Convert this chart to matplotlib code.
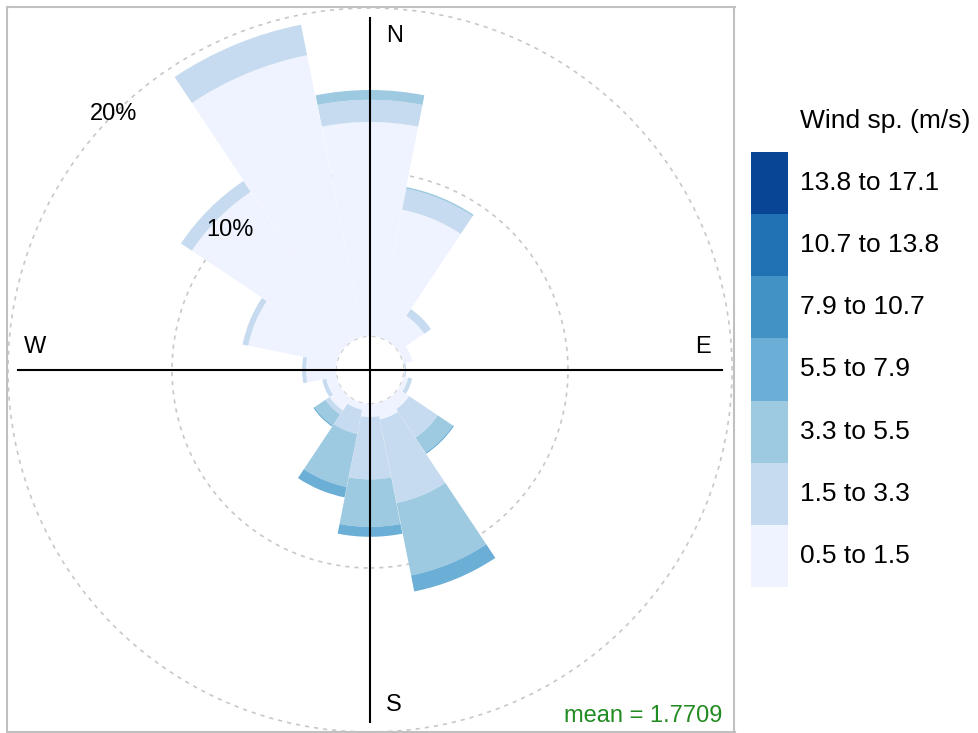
import numpy as np
import matplotlib
matplotlib.use("Agg")
import matplotlib.pyplot as plt
from matplotlib.patches import Wedge, Circle

plt.rcParams['font.family'] = ['Liberation Sans', 'DejaVu Sans']

# wind direction sectors (deg from north), 16 x 22.5
directions = np.arange(0, 360, 22.5)

# frequency (%) per speed class for each sector (N, NNE, ... NNW)
freq_0_5 = [13.05, 7.9, 1.9, 0.55, 0.05, 0.30, 0.8, 1.0, 0.8, 0.4, 0.9, 0.65, 1.83, 5.5, 11.0, 17.5]
freq_1_5 = [1.35, 1.3, 0.5, 0.0, 0.08, 0.25, 2.1, 5.2, 3.8, 1.5, 0.3, 0.25, 0.24, 0.35, 0.8, 1.9]
freq_3_3 = [0.6, 0.1, 0.0, 0.0, 0.0, 0.0, 1.1, 4.5, 2.9, 3.3, 0.8, 0.0, 0.0, 0.0, 0.0, 0.0]
freq_5_5 = [0.0, 0.0, 0.0, 0.0, 0.0, 0.0, 0.08, 1.0, 0.6, 0.65, 0.08, 0.0, 0.0, 0.0, 0.0, 0.0]
freq_7_9 = [0.0] * 16
freq_10_7 = [0.0] * 16
freq_13_8 = [0.0] * 16

speed_labels = ["0.5 to 1.5", "1.5 to 3.3", "3.3 to 5.5", "5.5 to 7.9",
                "7.9 to 10.7", "10.7 to 13.8", "13.8 to 17.1"]
speed_colors = ["#EFF3FF", "#C6DBEF", "#9ECAE1", "#6BAED6",
                "#4292C6", "#2171B5", "#084594"]
grid_pct = [10, 20]
mean_ws = 1.7709

freqs = [freq_0_5, freq_1_5, freq_3_3, freq_5_5, freq_7_9, freq_10_7, freq_13_8]

OFF = 2.07      # hole in the middle, in % units
HW = 11.2       # half width of a sector (deg)

fig = plt.figure(figsize=(9.79, 7.33), dpi=100)
ax = fig.add_axes([7.5 / 979, 1.5 / 733, 727 / 979, 724.5 / 733])
ax.set_xlim(-22.1, 22.22)
ax.set_ylim(-22.04, 22.13)

# grid circles (below the bars)
for g in grid_pct:
    ax.add_patch(Circle((0, 0), OFF + g, fill=False, ec="#c8c8c8", lw=1.2,
                        ls=(0, (2.5, 3)), zorder=1))
ax.add_patch(Circle((0, 0), OFF, fill=False, ec="#c8c8c8", lw=1.2,
                    ls=(0, (2.5, 3)), zorder=1))

# stacked sectors
for k, d in enumerate(directions):
    r0 = OFF
    for b in range(len(freqs)):
        v = freqs[b][k]
        if v > 0:
            ax.add_patch(Wedge((0, 0), r0 + v, 90 - d - HW, 90 - d + HW, width=v,
                               facecolor=speed_colors[b], edgecolor="none", zorder=2))
        r0 += v

# percentage labels along NW
for g in grid_pct:
    r = OFF + g
    ax.text(-r * np.sin(np.pi / 4), r * np.cos(np.pi / 4), f"{g}%",
            ha="center", va="center", fontsize=17, zorder=4)

# compass cross
L = 21.46
ax.plot([0, 0], [-L, L], color="black", lw=1.5, zorder=3)
ax.plot([-L, L], [0, 0], color="black", lw=1.5, zorder=3)
ax.text(1.52, 20.35, "N", ha="center", va="center", fontsize=17)
ax.text(1.46, -20.4, "S", ha="center", va="center", fontsize=17)
ax.text(-20.42, 1.4, "W", ha="center", va="center", fontsize=17)
ax.text(20.3, 1.4, "E", ha="center", va="center", fontsize=17)

ax.text(0.983, 0.0125, f"mean = {mean_ws}", transform=ax.transAxes,
        ha="right", va="baseline", color="#228B22", fontsize=17)

ax.set_xticks([])
ax.set_yticks([])
for s in ax.spines.values():
    s.set_color("#c0c0c0")
    s.set_linewidth(1.5)

# legend key
lax = fig.add_axes([751 / 979, (733 - 587) / 733, 37 / 979, 435 / 733])
for i, (lab, col) in enumerate(zip(speed_labels, speed_colors)):
    lax.bar(0.5, 1, width=1, bottom=i, color=col)
    lax.text(49 / 37, i + 0.5, lab, ha="left", va="center", fontsize=19)
lax.set_xlim(0, 1)
lax.set_ylim(0, len(speed_labels))
lax.axis("off")
fig.text(800 / 979, 1 - 121 / 733, "Wind sp. (m/s)", ha="left", va="center", fontsize=19)

fig.savefig("out.png", dpi=100)
